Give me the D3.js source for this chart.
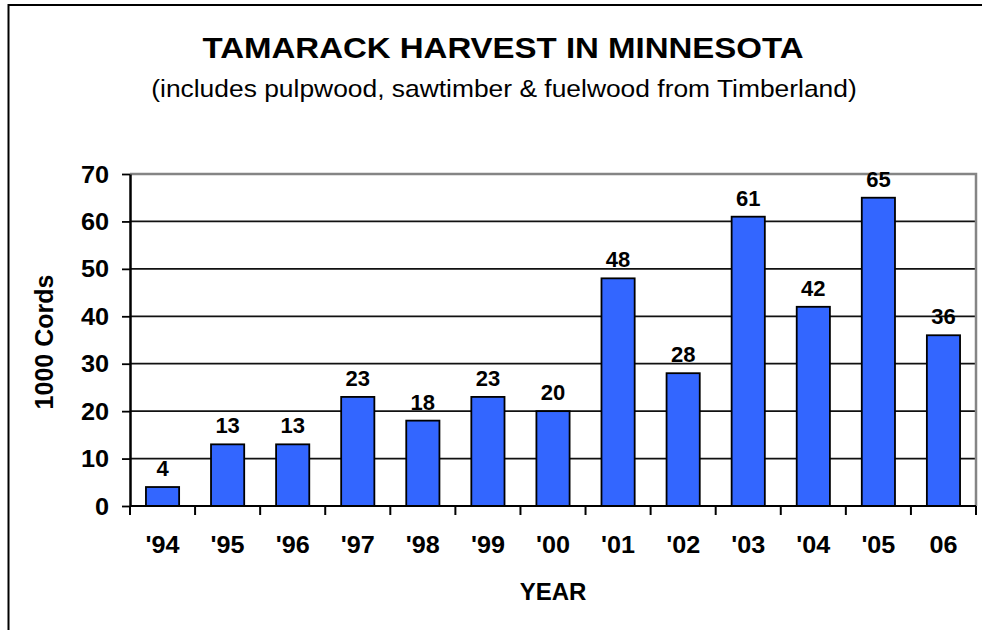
<!DOCTYPE html>
<html>
<head>
<meta charset="utf-8">
<script src="https://cdn.jsdelivr.net/npm/d3@7"></script>
<style>
  html, body { margin: 0; padding: 0; background: #fff; }
  svg { display: block; font-family: Arial, "Liberation Sans", sans-serif; }
</style>
</head>
<body>
<svg id="chart" width="982" height="630"></svg>
<script>
// Tamarack harvest, thousands of cords per year
const years = ["'94", "'95", "'96", "'97", "'98", "'99", "'00", "'01", "'02", "'03", "'04", "'05", "06"];
const cords = [4, 13, 13, 23, 18, 23, 20, 48, 28, 61, 42, 65, 36];
const yTicks = [0, 10, 20, 30, 40, 50, 60, 70];

const titleText = "TAMARACK HARVEST IN MINNESOTA";
const subtitleText = "(includes pulpwood, sawtimber & fuelwood from Timberland)";
const xTitle = "YEAR";
const yTitle = "1000 Cords";

const svg = d3.select("#chart");
const plot = { left: 130, right: 976, top: 174, bottom: 506 };

// text placed at (x, y) and widened horizontally by sx
function label(parent, x, y, txt, opts) {
  const o = Object.assign({ size: 20, weight: "normal", anchor: "middle", sx: 1, rotate: 0 }, opts);
  return parent.append("text")
    .attr("transform", `translate(${x},${y}) rotate(${o.rotate}) scale(${o.sx},1)`)
    .attr("text-anchor", o.anchor)
    .attr("font-size", o.size)
    .attr("font-weight", o.weight)
    .attr("fill", "#000")
    .text(txt);
}

// outer frame
svg.append("rect")
  .attr("x", 8.5).attr("y", 5)
  .attr("width", 1000).attr("height", 660)
  .attr("fill", "#fff").attr("stroke", "#000").attr("stroke-width", 2);

const x = d3.scaleBand()
  .domain(years)
  .range([plot.left, plot.right])
  .paddingInner(0.49)
  .paddingOuter(0.245);

const y = d3.scaleLinear()
  .domain([0, 70])
  .range([plot.bottom, plot.top]);

// horizontal gridlines
svg.append("g")
  .selectAll("line")
  .data(yTicks.filter(v => v > 0 && v < 70))
  .join("line")
  .attr("x1", plot.left).attr("x2", plot.right)
  .attr("y1", d => y(d)).attr("y2", d => y(d))
  .attr("stroke", "#111").attr("stroke-width", 1.8);

// gray plot-area border (top and right)
svg.append("path")
  .attr("d", `M${plot.left},${y(70)}H${plot.right}V${plot.bottom}`)
  .attr("fill", "none").attr("stroke", "#858585").attr("stroke-width", 2.5);

// bars
svg.append("g")
  .selectAll("rect")
  .data(cords)
  .join("rect")
  .attr("x", (d, i) => x(years[i]))
  .attr("y", d => y(d))
  .attr("width", x.bandwidth())
  .attr("height", d => y(0) - y(d))
  .attr("fill", "#3366ff")
  .attr("stroke", "#000")
  .attr("stroke-width", 1.8);

// value labels
const vals = svg.append("g");
cords.forEach((d, i) => {
  label(vals, x(years[i]) + x.bandwidth() / 2, y(d) - 11, d, { size: 22, weight: "bold" });
});

// y axis line and ticks
const yAxis = svg.append("g")
  .attr("transform", `translate(${plot.left},0)`)
  .call(d3.axisLeft(y).tickValues(yTicks).tickSize(8).tickFormat("").tickSizeOuter(0));
yAxis.select(".domain").attr("stroke", "#000").attr("stroke-width", 2.5);
yAxis.selectAll(".tick line").attr("stroke", "#000").attr("stroke-width", 1.8);

const yLabels = svg.append("g");
yTicks.forEach(v => {
  label(yLabels, 109, y(v) + 8.5, v, { size: 23, weight: "bold", anchor: "end", sx: 1.1 });
});

// x axis baseline and category separators
svg.append("line")
  .attr("x1", plot.left).attr("x2", plot.right)
  .attr("y1", plot.bottom).attr("y2", plot.bottom)
  .attr("stroke", "#000").attr("stroke-width", 2.2);
const bounds = years.map(c => x(c) - x.step() * x.paddingInner() / 2);
bounds[0] = plot.left;
bounds.push(plot.right);
svg.append("g")
  .selectAll("line")
  .data(bounds)
  .join("line")
  .attr("x1", d => d).attr("x2", d => d)
  .attr("y1", plot.bottom).attr("y2", plot.bottom + 9)
  .attr("stroke", "#000").attr("stroke-width", 2);

const xLabels = svg.append("g");
years.forEach(c => {
  label(xLabels, x(c) + x.bandwidth() / 2, 553, c, { size: 24, weight: "bold", sx: 1.05 });
});

// axis titles
label(svg, (plot.left + plot.right) / 2, 600, xTitle, { size: 24, weight: "bold" });
label(svg, 53, 342, yTitle, { size: 25, weight: "bold", rotate: -90 });

// titles
label(svg, 503, 58, titleText, { size: 30, weight: "bold", sx: 1.1 });
label(svg, 504, 97, subtitleText, { size: 24, sx: 1.1 });
</script>
</body>
</html>
